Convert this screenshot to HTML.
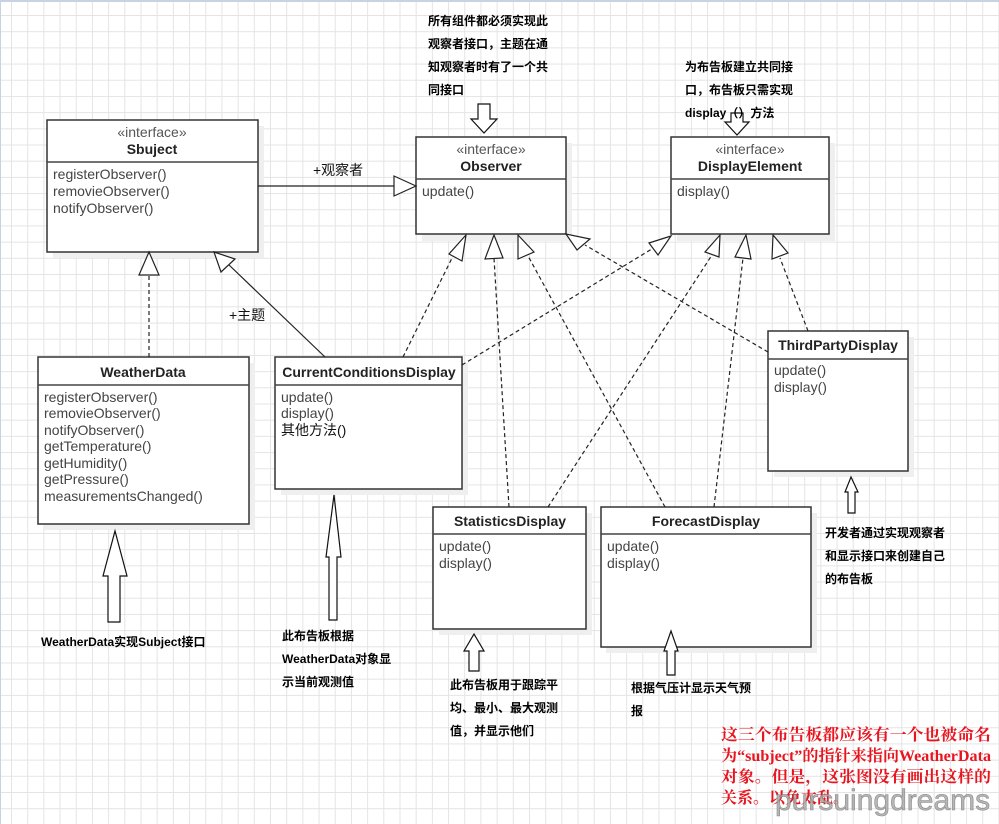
<!DOCTYPE html>
<html><head><meta charset="utf-8"><style>
body{margin:0;width:999px;height:824px;overflow:hidden;background:#fff;}
.bg{position:absolute;left:0;top:0;width:999px;height:824px;
background-color:#fff;
background-image:linear-gradient(#e4e4e4 1px,transparent 1px),linear-gradient(90deg,#e4e4e4 1px,transparent 1px);
background-size:16.2px 16.2px;background-position:10px 13px;
border-top:2px solid #c8d2e2;border-left:1px solid #c8d2e2;box-sizing:border-box;}
svg{position:absolute;left:0;top:0}
text{font-family:"Liberation Sans","Noto Sans CJK SC",sans-serif;}
.m{font-size:14px;fill:#444}
.n{font-size:14px;font-weight:bold;fill:#222;text-anchor:middle}
.s{font-size:14px;fill:#555;text-anchor:middle}
.c{font-size:12px;font-weight:bold;fill:#000;font-family:"Liberation Sans","Noto Sans CJK SC",sans-serif}
.r{font-size:16px;font-weight:bold;fill:#e8141e;font-family:"Liberation Serif","Noto Serif CJK SC",serif}
</style></head><body>
<div class="bg"></div>
<svg width="999" height="824" viewBox="0 0 999 824">
<g fill="#efefef">
<rect x="53" y="126" width="211" height="132"/><rect x="422" y="143" width="150" height="98"/>
<rect x="677" y="143" width="158" height="98"/><rect x="44" y="363" width="211" height="167"/>
<rect x="281" y="363" width="187" height="132"/><rect x="774" y="337" width="140" height="140"/>
<rect x="439" y="513" width="153" height="122"/><rect x="606" y="513" width="211" height="140"/>
</g>
<g fill="#fff" stroke="#333" stroke-width="1.5">
<rect x="47" y="120" width="211" height="132"/><rect x="416" y="137" width="150" height="97"/>
<rect x="671" y="137" width="158" height="97"/><rect x="38" y="357" width="211" height="167"/>
<rect x="275" y="357" width="187" height="132"/><rect x="768" y="331" width="140" height="140"/>
<rect x="433" y="507" width="153" height="122"/><rect x="601" y="507" width="210" height="140"/>
</g>
<g stroke="#444" stroke-width="1.5">
<line x1="47" y1="162" x2="258" y2="162"/><line x1="416" y1="179" x2="566" y2="179"/>
<line x1="671" y1="179" x2="829" y2="179"/><line x1="38" y1="385" x2="249" y2="385"/>
<line x1="275" y1="385" x2="462" y2="385"/><line x1="768" y1="359" x2="908" y2="359"/>
<line x1="433" y1="534" x2="586" y2="534"/><line x1="601" y1="534" x2="811" y2="534"/>
</g>
<text x="152" y="137" class="s">«interface»</text><text x="152" y="154" class="n">Sbuject</text>
<text x="53" y="179" class="m">registerObserver()</text><text x="53" y="196" class="m">removieObserver()</text><text x="53" y="213" class="m">notifyObserver()</text>
<text x="491" y="154" class="s">«interface»</text><text x="491" y="171" class="n">Observer</text>
<text x="422" y="196" class="m">update()</text>
<text x="750" y="154" class="s">«interface»</text><text x="750" y="171" class="n">DisplayElement</text>
<text x="677" y="196" class="m">display()</text>
<text x="143" y="377" class="n">WeatherData</text>
<text x="44" y="402" class="m">registerObserver()</text><text x="44" y="418" class="m">removieObserver()</text><text x="44" y="435" class="m">notifyObserver()</text><text x="44" y="451" class="m">getTemperature()</text><text x="44" y="468" class="m">getHumidity()</text><text x="44" y="484" class="m">getPressure()</text><text x="44" y="501" class="m">measurementsChanged()</text>
<text x="369" y="377" class="n">CurrentConditionsDisplay</text>
<text x="281" y="402" class="m">update()</text><text x="281" y="418" class="m">display()</text><text x="281" y="435" class="m" style="fill:#111">其他方法()</text>
<text x="838" y="350" class="n">ThirdPartyDisplay</text>
<text x="774" y="375" class="m">update()</text><text x="774" y="392" class="m">display()</text>
<text x="510" y="526" class="n">StatisticsDisplay</text>
<text x="439" y="551" class="m">update()</text><text x="439" y="568" class="m">display()</text>
<text x="706" y="526" class="n">ForecastDisplay</text>
<text x="607" y="551" class="m">update()</text><text x="607" y="568" class="m">display()</text>
<g stroke="#222" stroke-width="1.2" fill="none">
<line x1="258" y1="186" x2="395" y2="186"/>
<line x1="325" y1="357" x2="228" y2="264"/>
</g>
<g stroke="#222" stroke-width="1.2" fill="none" stroke-dasharray="4,3">
<line x1="149" y1="357" x2="149" y2="275"/>
<line x1="403" y1="357" x2="456" y2="250"/>
<line x1="509" y1="507" x2="494" y2="258"/>
<line x1="665" y1="507" x2="527" y2="254"/>
<line x1="768" y1="352" x2="585" y2="245"/>
<line x1="462" y1="365" x2="655" y2="247"/>
<line x1="548" y1="507" x2="712" y2="255"/>
<line x1="714" y1="507" x2="743" y2="258"/>
<line x1="808" y1="331" x2="780" y2="258"/>
</g>
<g fill="#fff" stroke="#222" stroke-width="1.2">
<polygon points="416,186 394,176 394,196"/>
<polygon points="214,252 221,272 235,259"/>
<polygon points="149,252 139,275 159,275"/>
<polygon points="466,235 449,254 462,261"/>
<polygon points="494,235 485,259 503,258"/>
<polygon points="518,235 518,259 534,252"/>
<polygon points="566,234 577,250 590,239"/>
<polygon points="671,236 649,243 658,255"/>
<polygon points="720,235 705,252 719,257"/>
<polygon points="746,235 735,257 751,259"/>
<polygon points="773,235 772,259 788,253"/>
</g>
<text x="313" y="175" style="font-size:14px;fill:#111">+观察者</text>
<text x="229" y="320" style="font-size:14px;fill:#111">+主题</text>
<g fill="#fff" stroke="#111" stroke-width="1.2">
<polygon points="478,104 490,104 490,119 497,119 484,133 471,119 478,119"/>
<polygon points="731,113 743,113 743,122 749,122 737,135 725,122 731,122"/>
<polygon points="108,622 120,622 120,576 127,576 115,531 103,576 108,576"/>
<polygon points="329,620 337,620 337,557 341,557 334,495 326,557 329,557"/>
<polygon points="469,671 479,671 479,651 484,651 474,634 464,651 469,651"/>
<polygon points="667,675 675,675 675,651 678,651 671,631 664,651 667,651"/>
<polygon points="848,513 855,513 855,492 858,492 851,477 845,492 848,492"/>
</g>
<text class="c"><tspan x="428" y="25">所有组件都必须实现此</tspan><tspan x="428" y="48">观察者接口，主题在通</tspan><tspan x="428" y="71">知观察者时有了一个共</tspan><tspan x="428" y="94">同接口</tspan></text>
<text class="c"><tspan x="685" y="71">为布告板建立共同接</tspan><tspan x="685" y="94">口，布告板只需实现</tspan><tspan x="685" y="117">display（）方法</tspan></text>
<text class="c" x="41" y="646">WeatherData实现Subject接口</text>
<text class="c"><tspan x="282" y="640">此布告板根据</tspan><tspan x="282" y="663">WeatherData对象显</tspan><tspan x="282" y="686">示当前观测值</tspan></text>
<text class="c"><tspan x="450" y="689">此布告板用于跟踪平</tspan><tspan x="450" y="712">均、最小、最大观测</tspan><tspan x="450" y="735">值，并显示他们</tspan></text>
<text class="c"><tspan x="631" y="692">根据气压计显示天气预</tspan><tspan x="631" y="715">报</tspan></text>
<text class="c"><tspan x="825" y="537">开发者通过实现观察者</tspan><tspan x="825" y="560">和显示接口来创建自己</tspan><tspan x="825" y="583">的布告板</tspan></text>
<text class="r" x="721" y="740" textLength="270" lengthAdjust="spacingAndGlyphs">这三个布告板都应该有一个也被命名</text>
<text class="r" x="721" y="761" textLength="270" lengthAdjust="spacingAndGlyphs">为“subject”的指针来指向WeatherData</text>
<text class="r" x="721" y="782" textLength="270" lengthAdjust="spacingAndGlyphs">对象。但是，这张图没有画出这样的</text>
<text class="r" x="721" y="803">关系。以免太乱。</text>
<text x="775" y="810" style="font-size:30px;fill:#aaa;stroke:#777;stroke-width:0.6;opacity:0.85">pursuingdreams</text>
</svg>
</body></html>
